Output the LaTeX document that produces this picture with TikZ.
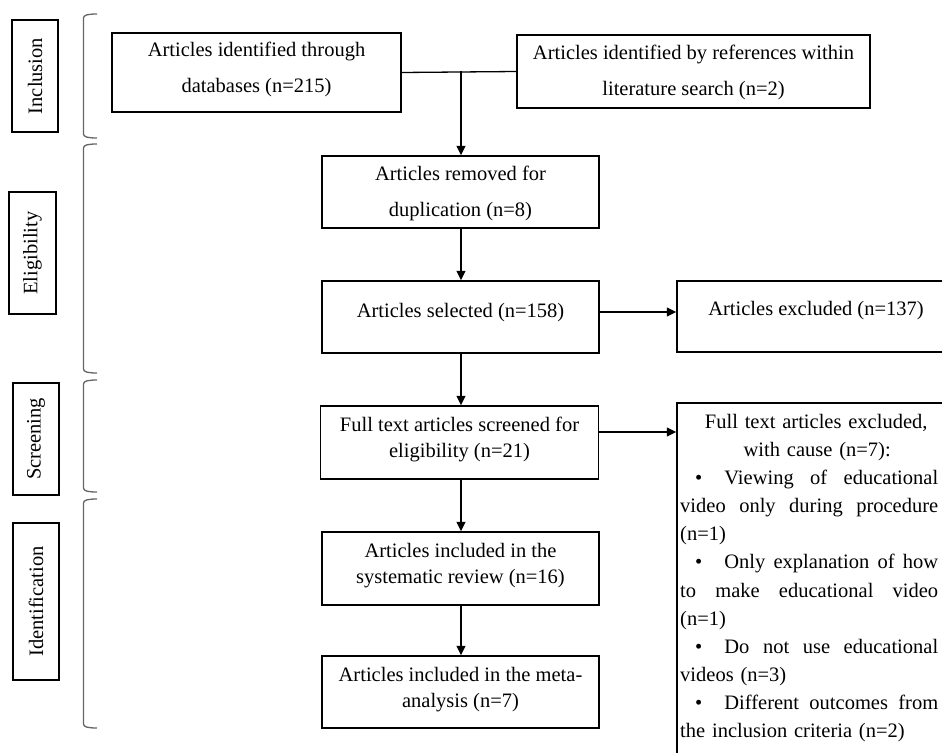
\documentclass[tikz,border=0pt]{standalone}
\usepackage{fontspec}
\setmainfont{Liberation Serif}
\usetikzlibrary{arrows.meta}
\tikzset{
  box/.style={draw, line width=1.5pt, inner sep=0pt},
  txt/.style={align=center, inner sep=0pt, font=\fontsize{20.5}{26}\selectfont},
  txtwide/.style={align=center, inner sep=0pt, font=\fontsize{20.5}{36}\selectfont},
  side/.style={draw, line width=1.3pt, rotate=90, inner sep=0pt, font=\fontsize{20.5}{26}\selectfont},
  brk/.style={draw=black!60, line width=1.3pt},
  arr/.style={line width=1.3pt, -{Triangle[length=9.5pt,width=9pt]}},
  con/.style={line width=1.3pt}
}
\newcommand{\brkt}[2]{\draw[brk] (97,#1) .. controls (88,#1) and (83.5,#1+1) .. (83.5,#1+4) -- (83.5,#2-4) .. controls (83.5,#2-1) and (88,#2) .. (97,#2);}
\newcommand{\bul}{\hspace*{15pt}\textbullet\hspace{22pt}}
\newcommand{\myjline}[1]{\makebox[258pt][s]{#1}}
\newcommand{\mycline}[2]{\makebox[258pt][c]{\hspace{#1}#2}}
\begin{document}
\begin{tikzpicture}[x=1pt,y=-1pt]
\useasboundingbox (0,0) rectangle (942,752);
\clip (0,0) rectangle (942,752);
% side labels
\node[side, minimum width=112pt, minimum height=46pt] (lin) at (35,76) {Inclusion};
\node[side, minimum width=122pt, minimum height=47pt] (lel) at (32.5,253) {Eligibility};
\node[side, minimum width=112pt, minimum height=46pt] (lsc) at (36,439) {Screening};
\node[side, minimum width=157pt, minimum height=46pt] (lid) at (36,601.5) {Identification};
% brackets
\brkt{14}{138}
\brkt{144}{373}
\brkt{380}{492}
\brkt{499}{728}
% boxes
\node[box, minimum width=289pt, minimum height=79pt] (b1) at (256.5,72.5) {};
\node[txtwide] (t1) at (256.5,69) {Articles identified through\\databases (n=215)};
\node[box, minimum width=353pt, minimum height=73pt] (b2) at (693.5,71.5) {};
\node[txtwide] (t2) at (693.5,72.5) {Articles identified by references within\\literature search (n=2)};
\node[box, minimum width=277pt, minimum height=72pt] (b3) at (460.5,192) {};
\node[txtwide] (t3) at (460.5,193.5) {Articles removed for\\duplication (n=8)};
\node[box, minimum width=277pt, minimum height=72pt] (b4) at (460.5,317) {};
\node[txt] (t4) at (460.5,313) {Articles selected (n=158)};
\node[box, minimum width=278pt, minimum height=71pt] (b5) at (816,316.5) {};
\node[txt] (t5) at (816,311) {Articles excluded (n=137)};
\node[box, minimum width=278pt, minimum height=73pt] (b6) at (459.5,442.5) {};
\node[txt] (t6) at (459.5,439.5) {Full text articles screened for\\eligibility (n=21)};
\node[box, minimum width=278pt, minimum height=400pt] (b7) at (816,603) {};
\node[anchor=north west, inner sep=0pt, text width=258pt, align=left,
      font=\fontsize{20.5}{28.1}\selectfont] (t7) at (680,414) {%
\mycline{14pt}{Full text articles excluded,}\\
\mycline{16pt}{with cause (n=7):}\\
\myjline{\bul Viewing\hfill of\hfill educational}\\
\myjline{video\hfill only\hfill during\hfill procedure}\\
(n=1)\\
\myjline{\bul Only\hfill explanation\hfill of\hfill how}\\
\myjline{to\hfill make\hfill educational\hfill video}\\
(n=1)\\
\myjline{\bul Do\hfill not\hfill use\hfill educational}\\
videos (n=3)\\
\myjline{\bul Different\hfill outcomes\hfill from}\\
the inclusion criteria (n=2)};
\node[box, minimum width=277pt, minimum height=73pt] (b8) at (460.5,568.5) {};
\node[txt] (t8) at (460.5,565.5) {Articles included in the\\systematic review (n=16)};
\node[box, minimum width=277pt, minimum height=72pt] (b9) at (460.5,692) {};
\node[txt] (t9) at (460.5,689.5) {Articles included in the meta-\\analysis (n=7)};
% connectors
\draw[con] (b1.east) -- (b2.west);
\coordinate (j) at (461,71.5);
\draw[arr] (j) -- (j |- b3.north);
\draw[arr] (b3.south -| j) -- (b4.north -| j);
\draw[arr] ([yshift=5pt]b4.east) -- ([yshift=5pt]b4.east -| b5.west);
\draw[arr] (b4.south -| j) -- (b6.north -| j);
\draw[arr] ([yshift=10.5pt]b6.east) -- ([yshift=10.5pt]b6.east -| b7.west);
\draw[arr] (b6.south -| j) -- (b8.north -| j);
\draw[arr] (b8.south -| j) -- (b9.north -| j);
\end{tikzpicture}
\end{document}
